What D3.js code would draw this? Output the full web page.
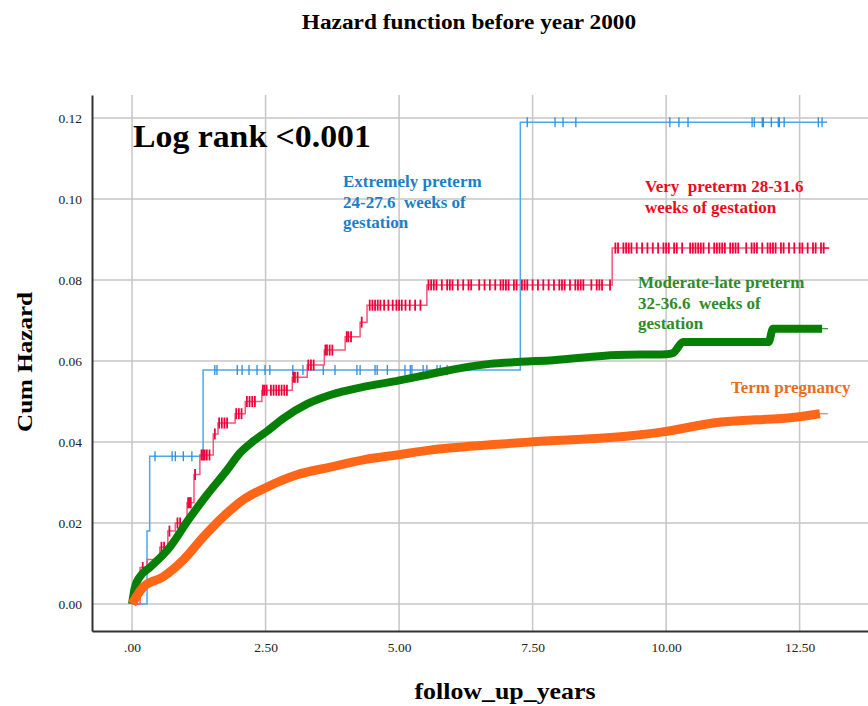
<!DOCTYPE html>
<html>
<head>
<meta charset="UTF-8">
<title>Hazard function before year 2000</title>
<script src="https://cdn.jsdelivr.net/npm/d3@7"></script>
<style>
  body { margin: 0; background: #fff; }
  svg { display: block; }
  text { font-family: "Liberation Serif", "Times New Roman", serif; }
</style>
</head>
<body>
<svg id="chart" width="868" height="706"></svg>
<script>
// ---- data ----
const xTicks = [0, 2.5, 5, 7.5, 10, 12.5];
const yTicks = [0, 0.02, 0.04, 0.06, 0.08, 0.10, 0.12];

// Extremely preterm (step curve)
const extTimes = [0, 0.28, 0.33, 1.33, 7.27];
const extHaz   = [0, 0.018, 0.0365, 0.0578, 0.119];
const extEnd = 12.92;
const extCensor = [0.43, 0.75, 0.81, 0.96, 1.12, 1.55, 1.59, 1.97, 2.06, 2.19, 2.34, 2.49, 2.58,
  3.01, 3.2, 3.58, 3.8, 4.21, 4.27, 4.55, 4.59, 4.78, 5.11, 5.21, 5.24, 5.45, 5.52, 5.71, 5.77, 5.9,
  7.4, 7.92, 8.07, 8.31, 10.07, 10.24, 10.41, 11.61, 11.65, 11.8, 11.82, 11.97, 12.1, 12.12, 12.21, 12.85];

// Very preterm (step curve)
const veryTimes = [0, 0.15, 0.28, 0.52, 0.67, 0.81, 1.03, 1.16, 1.27, 1.52, 1.61, 1.93, 2.12, 2.43,
  3.0, 3.28, 3.6, 3.99, 4.27, 4.4, 5.52, 8.99];
const veryHaz = [0, 0.009, 0.011, 0.014, 0.018, 0.020, 0.025, 0.032, 0.0368, 0.042, 0.0447, 0.047,
  0.050, 0.0528, 0.056, 0.059, 0.0627, 0.066, 0.0696, 0.0738, 0.0788, 0.0879];
const veryEnd = 12.98;
const veryCensor = [0.2, 0.55, 0.6, 0.7, 0.85, 0.9, 1.05, 1.08, 1.1, 1.18, 1.3, 1.33, 1.36, 1.4, 1.45,
  1.55, 1.63, 1.68, 1.73, 1.78, 1.95, 2.0, 2.05, 2.15, 2.2, 2.25, 2.3, 2.45, 2.48, 2.52, 2.6, 2.65,
  2.7, 2.75, 2.8, 2.85, 2.9, 3.02, 3.05, 3.1, 3.3, 3.35, 3.4, 3.62, 3.65, 3.7, 3.75, 4.02, 4.05, 4.1,
  4.3, 4.45, 4.5, 4.55, 4.6, 4.65, 4.72, 4.8, 4.88, 4.95, 5.0, 5.05, 5.12, 5.2, 5.3, 5.4, 5.55, 5.6,
  5.65, 5.7, 5.8, 5.9, 5.95, 6.0, 6.1, 6.2, 6.3, 6.35, 6.5, 6.6, 6.7, 6.8, 6.9, 6.95, 7.0, 7.05, 7.15,
  7.2, 7.3, 7.35, 7.4, 7.5, 7.6, 7.7, 7.8, 7.9, 8.0, 8.05, 8.1, 8.2, 8.3, 8.35, 8.4, 8.45, 8.6, 8.7,
  8.75, 8.8, 8.95, 9.05, 9.1, 9.2, 9.25, 9.3, 9.35, 9.45, 9.55, 9.65, 9.75, 9.85, 9.95, 10.0, 10.05,
  10.15, 10.2, 10.3, 10.45, 10.5, 10.55, 10.6, 10.65, 10.7, 10.8, 10.9, 10.95, 11.0, 11.05, 11.1, 11.2,
  11.25, 11.3, 11.35, 11.5, 11.6, 11.65, 11.7, 11.8, 11.9, 11.95, 12.0, 12.05, 12.15, 12.2, 12.3,
  12.4, 12.5, 12.55, 12.65, 12.75, 12.8, 12.9, 12.95];

// Moderate-late preterm (dense curve)
const modTimes = [0, 0.05, 0.15, 0.34, 0.71, 1.05, 1.40, 1.78, 2.02, 2.27, 2.53, 2.83, 3.28, 3.71,
  4.33, 4.96, 5.45, 5.77, 6.70, 7.27, 7.88, 9.08, 10.0, 10.13, 10.32, 11.92, 12.0, 12.92];
const modHaz = [0, 0.004, 0.0068, 0.0091, 0.0141, 0.0207, 0.0269, 0.0331, 0.0373, 0.0402, 0.0427,
  0.0458, 0.0494, 0.0516, 0.0536, 0.0551, 0.0564, 0.0573, 0.0593, 0.0598, 0.0602, 0.0615, 0.0617,
  0.062, 0.0647, 0.0647, 0.068, 0.068];

// Term pregnancy (dense curve)
const termTimes = [0, 0.21, 0.58, 0.96, 1.33, 1.70, 2.08, 2.53, 3.09, 3.71, 4.33, 4.96, 5.58,
  6.70, 7.45, 9.3, 9.94, 10.88, 12.45, 12.88];
const termHaz = [0, 0.0042, 0.0067, 0.0109, 0.0165, 0.0215, 0.0257, 0.0289, 0.0319, 0.0338,
  0.0356, 0.0368, 0.038, 0.0393, 0.040, 0.0415, 0.0425, 0.0447, 0.0462, 0.047];

// ---- drawing ----
const svg = d3.select("#chart");
const plotLeft = 92, plotRight = 868, plotTop = 95, plotBottom = 631;

const x = d3.scaleLinear().domain([-0.75, 13.78]).range([plotLeft, plotRight]);
const y = d3.scaleLinear().domain([-0.00667, 0.1257]).range([plotBottom, plotTop]);

// grid
svg.append("g").selectAll("line").data(xTicks).enter().append("line")
  .attr("x1", d => x(d)).attr("x2", d => x(d))
  .attr("y1", plotTop).attr("y2", plotBottom)
  .attr("stroke", "#c6c6c6").attr("stroke-width", 1.5);
svg.append("g").selectAll("line").data(yTicks).enter().append("line")
  .attr("x1", plotLeft).attr("x2", plotRight)
  .attr("y1", d => y(d)).attr("y2", d => y(d))
  .attr("stroke", "#c6c6c6").attr("stroke-width", 1.5);

// axes
const xAxis = d3.axisBottom(x).tickValues(xTicks).tickSize(0).tickPadding(11)
  .tickFormat(d => d === 0 ? ".00" : d.toFixed(2));
const gx = svg.append("g").attr("transform", `translate(0,${plotBottom})`).call(xAxis);
gx.select(".domain").attr("stroke", "#333").attr("stroke-width", 2);
gx.selectAll("text").attr("font-size", 13.5).attr("fill", "#222")
  .attr("font-family", "Liberation Serif");

const yAxis = d3.axisLeft(y).tickValues(yTicks).tickSize(0).tickPadding(10)
  .tickFormat(d => d.toFixed(2));
const gy = svg.append("g").attr("transform", `translate(${plotLeft},0)`).call(yAxis);
gy.select(".domain").attr("stroke", "#333").attr("stroke-width", 2);
gy.selectAll("text").attr("font-size", 13.5).attr("fill", "#222")
  .attr("font-family", "Liberation Serif");

const stepLine = d3.line().x(d => x(d[0])).y(d => y(d[1])).curve(d3.curveStepAfter);
const smoothLine = d3.line().x(d => x(d[0])).y(d => y(d[1])).curve(d3.curveMonotoneX);

function stepPoints(times, haz, end) {
  const pts = times.map((t, i) => [t, haz[i]]);
  pts.push([end, haz[haz.length - 1]]);
  return pts;
}
function hazAt(times, haz, t) {
  let h = 0;
  times.forEach((s, i) => { if (s <= t) h = haz[i]; });
  return h;
}

// Extremely preterm
svg.append("path").datum(stepPoints(extTimes, extHaz, extEnd))
  .attr("d", stepLine).attr("fill", "none")
  .attr("stroke", "#4ea6ec").attr("stroke-width", 1.5);
svg.append("g").selectAll("line").data(extCensor.concat([extEnd])).enter().append("line")
  .attr("x1", d => x(d)).attr("x2", d => x(d))
  .attr("y1", d => y(hazAt(extTimes, extHaz, d)) - 5)
  .attr("y2", d => y(hazAt(extTimes, extHaz, d)) + 5)
  .attr("stroke", "#2a8ee0").attr("stroke-width", 1.3);
svg.append("line")
  .attr("x1", x(extEnd)).attr("x2", x(extEnd) + 5)
  .attr("y1", y(extHaz[extHaz.length - 1])).attr("y2", y(extHaz[extHaz.length - 1]))
  .attr("stroke", "#2a8ee0").attr("stroke-width", 1.3);

// Very preterm
svg.append("path").datum(stepPoints(veryTimes, veryHaz, veryEnd))
  .attr("d", stepLine).attr("fill", "none")
  .attr("stroke", "#f4577a").attr("stroke-width", 1.5);
svg.append("g").selectAll("line").data(veryCensor).enter().append("line")
  .attr("x1", d => x(d)).attr("x2", d => x(d))
  .attr("y1", d => y(hazAt(veryTimes, veryHaz, d)) - 5.5)
  .attr("y2", d => y(hazAt(veryTimes, veryHaz, d)) + 5.5)
  .attr("stroke", "#f2003a").attr("stroke-width", 1.8);
svg.append("line")
  .attr("x1", x(veryEnd) - 2).attr("x2", x(veryEnd) + 4)
  .attr("y1", y(veryHaz[veryHaz.length - 1])).attr("y2", y(veryHaz[veryHaz.length - 1]))
  .attr("stroke", "#f2003a").attr("stroke-width", 1.5);

// Moderate-late preterm
const modPts = modTimes.map((t, i) => [t, modHaz[i]]);
svg.append("path").datum(modPts)
  .attr("d", smoothLine).attr("fill", "none")
  .attr("stroke", "#067f06").attr("stroke-width", 8)
  .attr("stroke-linejoin", "bevel");
svg.append("line")
  .attr("x1", x(modTimes[modTimes.length - 1])).attr("x2", x(modTimes[modTimes.length - 1]) + 6)
  .attr("y1", y(modHaz[modHaz.length - 1])).attr("y2", y(modHaz[modHaz.length - 1]))
  .attr("stroke", "#3a9a3a").attr("stroke-width", 1.3);

// Term pregnancy
const termPts = termTimes.map((t, i) => [t, termHaz[i]]);
svg.append("path").datum(termPts)
  .attr("d", smoothLine).attr("fill", "none")
  .attr("stroke", "#ff6618").attr("stroke-width", 9)
  .attr("stroke-linejoin", "bevel");
svg.append("line")
  .attr("x1", x(termTimes[termTimes.length - 1])).attr("x2", x(termTimes[termTimes.length - 1]) + 8)
  .attr("y1", y(termHaz[termHaz.length - 1])).attr("y2", y(termHaz[termHaz.length - 1]))
  .attr("stroke", "#ff8a4a").attr("stroke-width", 1.3);

// titles (the source picture is stretched a little horizontally)
function label(str, x0, y0, size, sx, anchor, rotate) {
  const g = svg.append("g")
    .attr("transform", `translate(${x0},${y0})` + (rotate ? ` rotate(${rotate})` : "") + ` scale(${sx},1)`);
  g.append("text").attr("text-anchor", anchor)
    .attr("font-size", size).attr("font-weight", "bold").attr("fill", "#000")
    .text(str);
}
label("Hazard function before year 2000", 469, 29, 21, 1.11, "middle");
label("follow_up_years", 505, 699, 23, 1.125, "middle");
label("Cum Hazard", 32, 362, 22, 1.14, "middle", -90);
label("Log rank <0.001", 133, 147, 31, 1.09, "start");

// annotations
function note(lines, x0, y0, color) {
  const t = svg.append("text").attr("x", x0).attr("y", y0)
    .attr("font-size", 17).attr("font-weight", "bold").attr("fill", color);
  lines.forEach((l, i) => {
    t.append("tspan").attr("x", x0).attr("dy", i === 0 ? 0 : 20.7).attr("xml:space", "preserve").text(l);
  });
}
note(["Extremely preterm", "24-27.6  weeks of", "gestation"], 343, 187, "#1a7fc6");
note(["Very  preterm 28-31.6", "weeks of gestation"], 645, 192, "#ea0b22");
note(["Moderate-late preterm", "32-36.6  weeks of", "gestation"], 638, 288, "#2f8a28");
note(["Term pregnancy"], 731, 393, "#e66d22");
</script>
</body>
</html>
